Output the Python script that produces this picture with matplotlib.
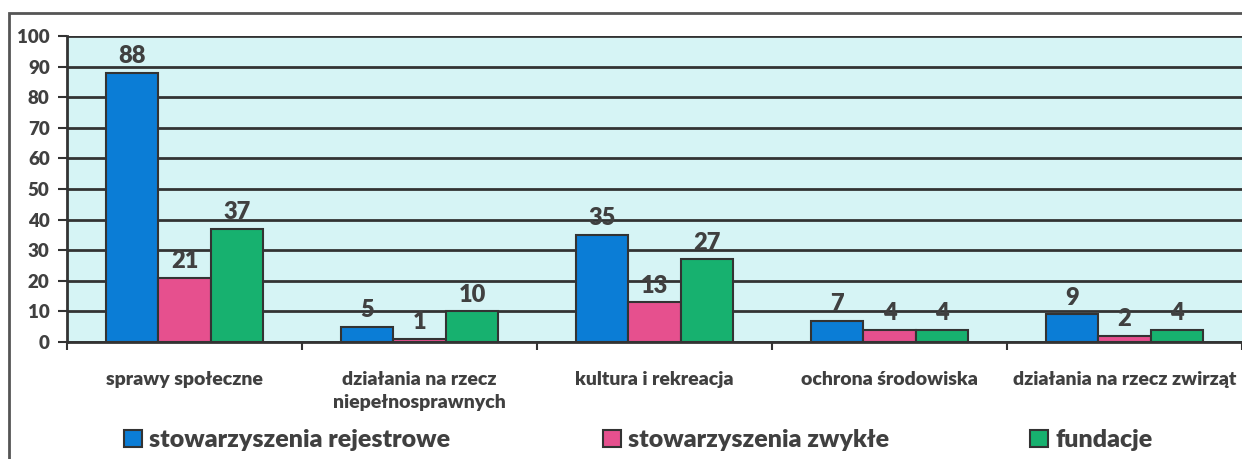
import matplotlib.pyplot as plt
from matplotlib.patches import Rectangle
import numpy as np

# data
categories = ["sprawy społeczne", "działania na rzecz\nniepełnosprawnych",
              "kultura i rekreacja", "ochrona środowiska", "działania na rzecz zwirząt"]
series_names = ["stowarzyszenia rejestrowe", "stowarzyszenia zwykłe", "fundacje"]
rejestrowe = [88, 5, 35, 7, 9]
zwykle = [21, 1, 13, 4, 2]
fundacje = [37, 10, 27, 4, 4]
yticks = [0, 10, 20, 30, 40, 50, 60, 70, 80, 90, 100]

colors = ["#0b7dd6", "#e6508e", "#17b16f"]
text_col = "#404040"
font = "Lato"
wt = "heavy"

W, H = 1242, 459
fig = plt.figure(figsize=(W / 100, H / 100), dpi=100)
fig.patch.set_facecolor("white")

# outer chart frame (cut off on the right and bottom)
frame = Rectangle((9 / W, -0.1), 1.2, 1 - 13 / H + 0.1, transform=fig.transFigure,
                  fill=False, edgecolor="#555555", lw=2, clip_on=False)
fig.patches.append(frame)

left, right = 67 / W, 1.0
bottom, top = 1 - 342 / H, 1 - 36 / H
ax = fig.add_axes([left, bottom, right - left, top - bottom])
ax.set_facecolor("#d6f4f5")

x = np.arange(len(categories))
bw = 0.224
bars = []
for i, (vals, c) in enumerate(zip([rejestrowe, zwykle, fundacje], colors)):
    b = ax.bar(x + (i - 1) * bw, vals, bw, color=c, edgecolor="#333333", lw=1.5,
               zorder=3, label=series_names[i])
    ax.bar_label(b, padding=4, fontsize=17, fontweight=wt, color=text_col,
                 family=font, zorder=4)
    bars.append(b)

ax.set_xlim(-0.5, -0.5 + (W - 67) / 237)
ax.set_ylim(0, 100)
ax.set_yticks(yticks)
ax.set_yticklabels([str(v) for v in yticks], fontsize=13.5, fontweight=wt,
                   color=text_col, family=font)
ax.yaxis.grid(True, color="#333333", lw=2, zorder=1)
ax.tick_params(axis="y", length=6.5, width=1.5, color="#333333", pad=6)

# category boundaries as ticks, names as minor labels
ax.set_xticks(np.arange(len(categories) + 1) - 0.5)
ax.set_xticklabels([])
ax.tick_params(axis="x", which="major", length=6, width=1.5, color="#333333")
ax.set_xticks(x, minor=True)
ax.set_xticklabels(categories, minor=True, fontsize=14, fontweight=wt,
                   color=text_col, family=font, linespacing=1.4, va="top")
ax.tick_params(axis="x", which="minor", length=0, pad=21)

for s in ["top", "right"]:
    ax.spines[s].set_visible(False)
for s in ["left", "bottom"]:
    ax.spines[s].set_color("#333333")
    ax.spines[s].set_linewidth(2)

# legend, three separate entries like the original
leg_x = [124 / W, 603 / W, 1030 / W]
for b, lx, name in zip(bars, leg_x, series_names):
    fig.legend(handles=[b], labels=[name], loc="center left",
               bbox_to_anchor=(lx, 1 - 440 / H), frameon=False,
               handlelength=0.7, handleheight=0.7, handletextpad=0.3,
               borderaxespad=0, borderpad=0,
               prop={"family": font, "size": 18, "weight": wt},
               labelcolor=text_col)

fig.savefig("out.png", dpi=100)
